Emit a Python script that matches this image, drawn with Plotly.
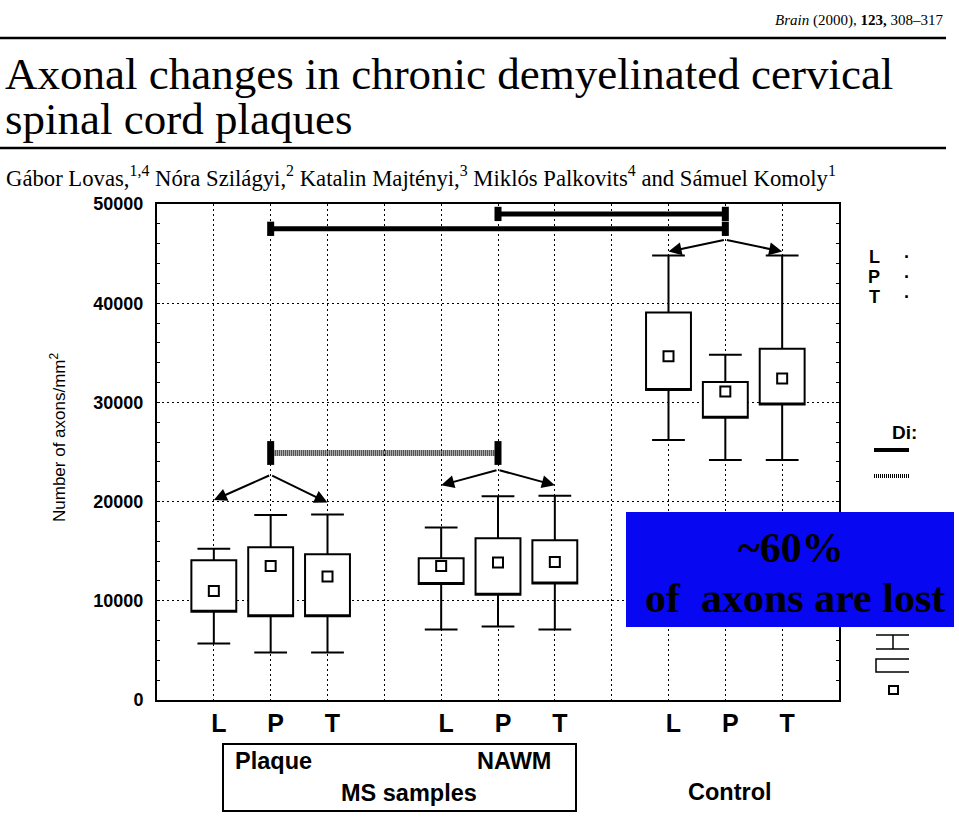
import plotly.graph_objects as go

# ---------------- data ----------------
positions = [1, 2, 3, 5, 6, 7, 9, 10, 11]
tick_text = ["L", "P", "T", "L", "P", "T", "L", "P", "T"]
whisker_low = [5700, 4800, 4800, 7100, 7400, 7100, 26200, 24200, 24200]
box_q1 = [8900, 8450, 8450, 11700, 10600, 11750, 31250, 28450, 29800]
box_q3 = [14100, 15400, 14700, 14300, 16300, 16100, 39050, 32050, 35400]
whisker_high = [15250, 18650, 18700, 17400, 20550, 20600, 44800, 34800, 44800]
means = [11000, 13500, 12450, 13500, 13850, 13900, 34650, 31100, 32400]

# significance bars: from, to, level, style
sig_from = [2, 6, 2]
sig_to = [10, 10, 6]
sig_level = [47500, 49000, 24900]
sig_hatched = [False, False, True]

# arrow groups: apex and the two targets
arrow_apex_x = [2, 6, 10]
arrow_apex_y = [22700, 23200, 46400]
arrow_left_x = [1, 5, 9]
arrow_left_y = [20150, 21650, 45200]
arrow_right_x = [3, 7, 11]
arrow_right_y = [19900, 21650, 45200]

y_ticks = [0, 10000, 20000, 30000, 40000, 50000]

# ---------------- layout helpers ----------------
W, H = 959, 817
L, R, T, B = 157, 839, 204, 700


def xp(px):
    return (px - L) / (R - L)


def yp(py):
    return (B - py) / (B - T)


fig = go.Figure()

for i, pos in enumerate(positions):
    fig.add_trace(go.Box(
        x=[pos], q1=[box_q1[i]], median=[box_q1[i]], q3=[box_q3[i]],
        lowerfence=[whisker_low[i]], upperfence=[whisker_high[i]],
        width=0.79, whiskerwidth=0.73, boxpoints=False,
        fillcolor="white", line=dict(color="black", width=2),
        showlegend=False, hoverinfo="skip"))

fig.add_trace(go.Scatter(
    x=positions, y=means, mode="markers", showlegend=False,
    marker=dict(symbol="square-open", size=10, color="black",
                line=dict(width=2, color="black"))))

# significance bars
for i in range(len(sig_from)):
    hatched = sig_hatched[i]
    fig.add_trace(go.Scatter(
        x=[sig_from[i], sig_to[i]], y=[sig_level[i], sig_level[i]],
        mode="lines", showlegend=False, hoverinfo="skip",
        line=dict(color="black", width=6 if hatched else 5,
                  dash="1px,1px" if hatched else "solid")))
    half = 1200 if hatched else 720
    for cx in (sig_from[i], sig_to[i]):
        fig.add_trace(go.Scatter(
            x=[cx, cx], y=[sig_level[i] - half, sig_level[i] + half],
            mode="lines", showlegend=False, hoverinfo="skip",
            line=dict(color="black", width=7)))

annotations = []
for i in range(len(arrow_apex_x)):
    for tx, ty in ((arrow_left_x[i], arrow_left_y[i]),
                   (arrow_right_x[i], arrow_right_y[i])):
        annotations.append(dict(
            x=tx, y=ty, ax=arrow_apex_x[i], ay=arrow_apex_y[i],
            xref="x", yref="y", axref="x", ayref="y", text="",
            showarrow=True, arrowhead=2, arrowsize=1.3, arrowwidth=2,
            arrowcolor="black", standoff=0, startstandoff=0))

serif = "Liberation Serif"
sans = "Liberation Sans"


def text(px, py, s, size, family=serif, xanchor="center", yanchor="middle",
         weight="normal", angle=0, color="black"):
    annotations.append(dict(
        x=xp(px), y=yp(py), xref="paper", yref="paper", text=s,
        showarrow=False, xanchor=xanchor, yanchor=yanchor, textangle=angle,
        font=dict(family=family, size=size, color=color, weight=weight)))


# header
text(945, 20, "<i>Brain</i> (2000), <b>123,</b> 308–317", 15, xanchor="right")
text(3, 74, "Axonal changes in chronic demyelinated cervical", 45, xanchor="left")
text(3, 119, "spinal cord plaques", 45, xanchor="left")
text(4, 176, "Gábor Lovas,<sup>1,4</sup> Nóra Szilágyi,<sup>2</sup> Katalin Majtényi,<sup>3</sup> "
     "Miklós Palkovits<sup>4</sup> and Sámuel Komoly<sup>1</sup>", 22.7, xanchor="left")

# axis title
text(58, 437, "Number of axons/mm<sup>2</sup>", 17, family=sans, angle=-90)

# right (cropped) legend
for py, s in ((257, "L"), (277, "P"), (297, "T")):
    text(874, py, s, 18, family=sans, weight="bold")
    text(907, py, "·", 18, family=sans, weight="bold")
text(890, 432, "Di:", 19, family=sans, weight="bold", xanchor="left")

# group labels
text(233, 761, "Plaque", 23.5, family=sans, weight="bold", xanchor="left")
text(553, 761, "NAWM", 23.5, family=sans, weight="bold", xanchor="right")
text(409, 793, "MS samples", 23.5, family=sans, weight="bold")
text(730, 792, "Control", 23.5, family=sans, weight="bold")

# blue highlight text
text(791, 548, "<b>~60%</b>", 42)
text(795, 598, "<b>of  axons are lost</b>", 42)

shapes = [
    dict(type="line", xref="paper", yref="paper", x0=xp(0), x1=xp(946),
         y0=yp(38), y1=yp(38), line=dict(color="black", width=2.5)),
    dict(type="line", xref="paper", yref="paper", x0=xp(0), x1=xp(946),
         y0=yp(148), y1=yp(148), line=dict(color="black", width=2.5)),
    dict(type="rect", xref="paper", yref="paper", x0=xp(223), x1=xp(576),
         y0=yp(744), y1=yp(811), line=dict(color="black", width=2)),
    # cropped legend line samples
    dict(type="line", xref="paper", yref="paper", x0=xp(874), x1=xp(909),
         y0=yp(450), y1=yp(450), line=dict(color="black", width=4)),
    dict(type="line", xref="paper", yref="paper", x0=xp(874), x1=xp(909),
         y0=yp(476), y1=yp(476), line=dict(color="black", width=4, dash="1px,1px")),
    # cropped box legend symbol
    dict(type="line", xref="paper", yref="paper", x0=xp(876), x1=xp(909),
         y0=yp(635), y1=yp(635), line=dict(color="black", width=1.5)),
    dict(type="line", xref="paper", yref="paper", x0=xp(876), x1=xp(909),
         y0=yp(649), y1=yp(649), line=dict(color="black", width=1.5)),
    dict(type="line", xref="paper", yref="paper", x0=xp(893), x1=xp(893),
         y0=yp(635), y1=yp(649), line=dict(color="black", width=1.5)),
    dict(type="path", xref="paper", yref="paper",
         path=f"M {xp(909)} {yp(659)} L {xp(876)} {yp(659)} L {xp(876)} {yp(672)} L {xp(909)} {yp(672)}",
         line=dict(color="black", width=1.5)),
    dict(type="rect", xref="paper", yref="paper", x0=xp(889), x1=xp(898),
         y0=yp(686), y1=yp(694), line=dict(color="black", width=2)),
    # blue highlight
    dict(type="rect", xref="paper", yref="paper", x0=xp(626), x1=xp(954),
         y0=yp(512), y1=yp(627), fillcolor="#0707F2", line=dict(width=0),
         layer="above"),
]

grid = dict(showgrid=True, gridcolor="black", gridwidth=1, griddash="2px,3px")

fig.update_layout(
    width=W, height=H,
    margin=dict(l=L, r=W - R, t=T, b=H - B, pad=0),
    paper_bgcolor="white", plot_bgcolor="white",
    showlegend=False,
    annotations=annotations, shapes=shapes,
    xaxis=dict(range=[0, 12], tickvals=positions, ticktext=tick_text,
               tickfont=dict(family=sans, size=25, color="black", weight="bold"),
               ticks="", ticklabelshift=5, ticklabelstandoff=0,
               showline=True, linecolor="black", linewidth=2, mirror=True,
               zeroline=False,
               minor=dict(tickvals=[4, 8], **grid), **grid),
    yaxis=dict(range=[0, 50000], tickvals=y_ticks,
               ticktext=[str(v) for v in y_ticks],
               tickfont=dict(family=sans, size=18, color="black", weight="bold"),
               ticks="inside", ticklen=3, tickcolor="black",
               ticklabelstandoff=8,
               showline=True, linecolor="black", linewidth=2, mirror="ticks",
               zeroline=False,
               minor=dict(dtick=2000, ticks="inside", ticklen=3, tickcolor="black",
                          showgrid=False),
               **grid),
)

fig.write_html("out.html",
               config={"displayModeBar": False},
               post_script="document.body.style.margin='0px';"
                           "document.body.style.overflow='hidden';")
